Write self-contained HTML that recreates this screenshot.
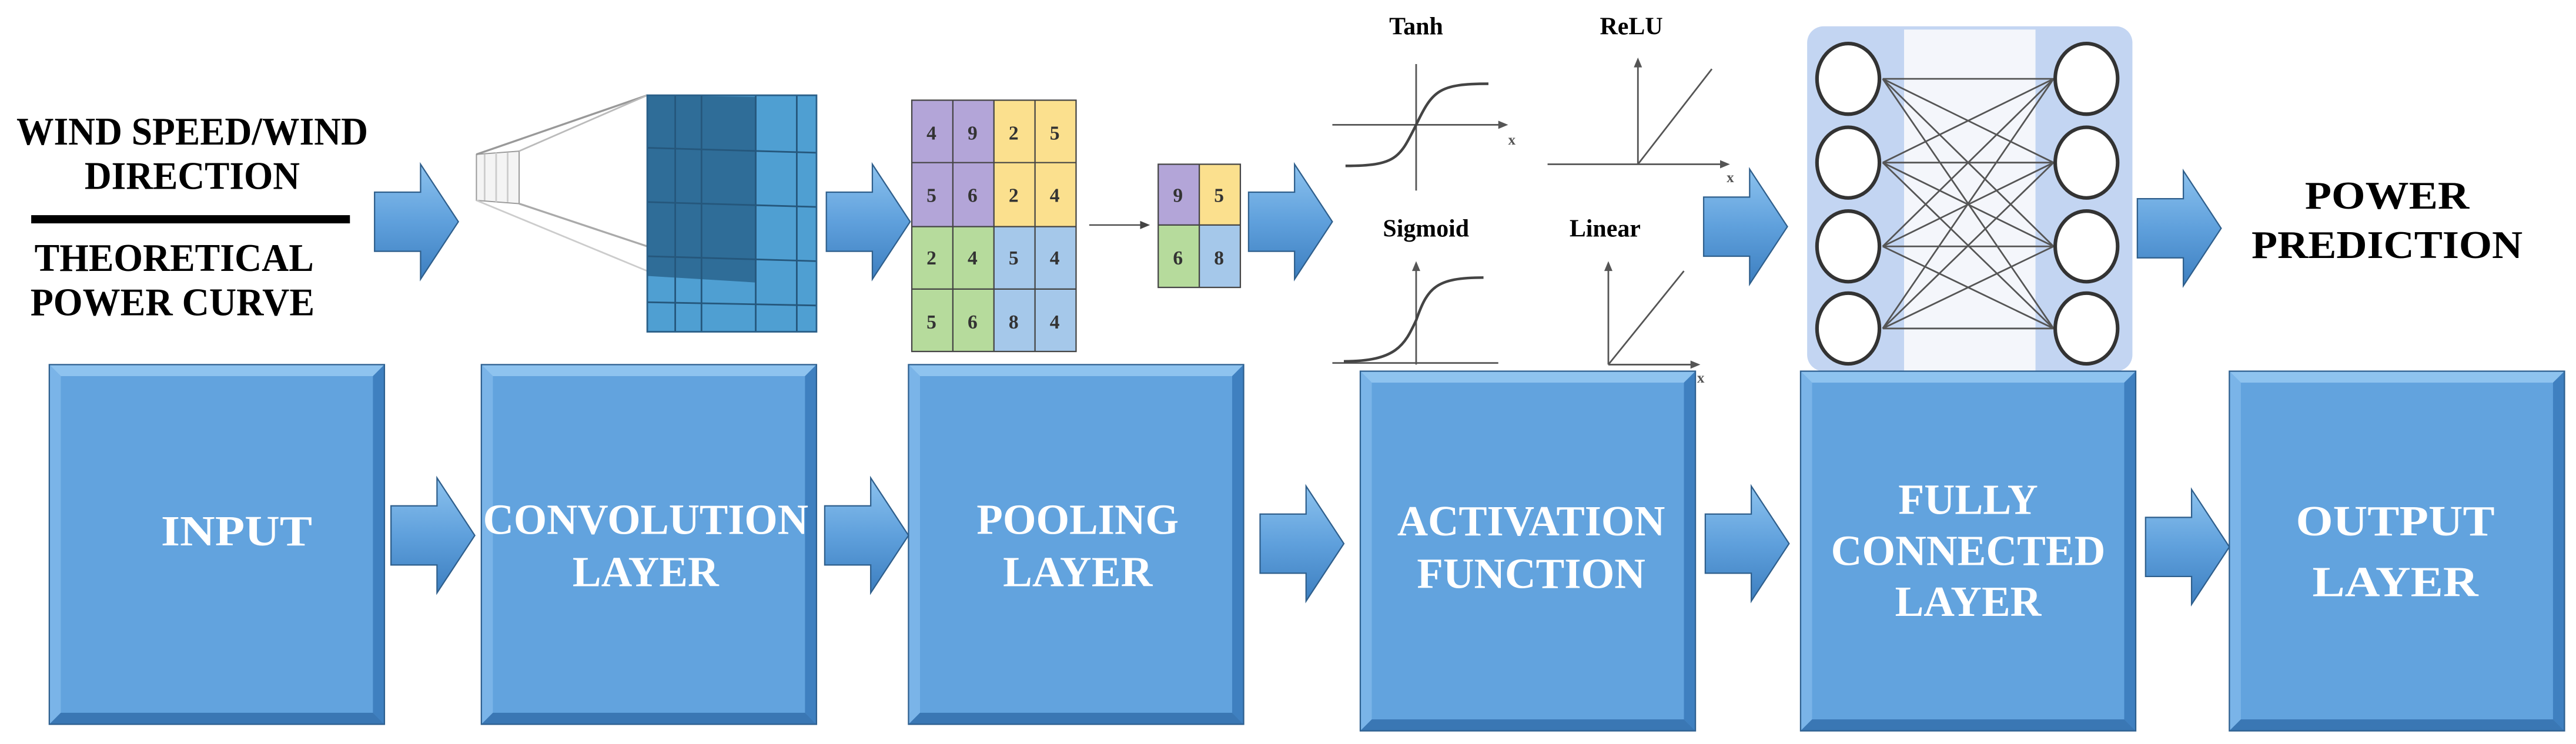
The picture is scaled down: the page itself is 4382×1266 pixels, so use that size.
<!DOCTYPE html>
<html><head><meta charset="utf-8"><style>
html,body{margin:0;padding:0;background:#fff;}
svg{display:block}
text{font-family:"Liberation Serif",serif;font-weight:bold}
</style></head><body>
<svg width="4382" height="1266" viewBox="0 0 1568 453" xmlns="http://www.w3.org/2000/svg">
<defs>
<linearGradient id="ar" x1="0" y1="0" x2="0" y2="1">
<stop offset="0" stop-color="#8cc2ee"/><stop offset="0.5" stop-color="#5fa0dc"/><stop offset="1" stop-color="#3d7fc0"/></linearGradient>
<g id="arrow"><polygon points="0,17 28,17 28,0 51,35 28,70 28,53 0,53" fill="url(#ar)" stroke="#2f5f8c" stroke-width="0.8"/></g>
<g id="box">
<rect x="0" y="0" width="204" height="219" fill="#62a3de"/>
<polygon points="0,0 204,0 197,7 7,7" fill="#8ec3ef"/>
<polygon points="0,0 7,7 7,212 0,219" fill="#7ab4e8"/>
<polygon points="204,0 204,219 197,212 197,7" fill="#3f80c0"/>
<polygon points="0,219 7,212 197,212 204,219" fill="#3a77b4"/>
<rect x="0" y="0" width="204" height="219" fill="none" stroke="#2d5f8f" stroke-width="0.8"/>
</g>
</defs>
<rect width="1568" height="453" fill="#fff"/>

<!-- left text -->
<g font-size="24" text-anchor="middle" fill="#000">
<text x="117" y="88" textLength="214" lengthAdjust="spacingAndGlyphs">WIND SPEED/WIND</text>
<text x="117" y="115" textLength="131" lengthAdjust="spacingAndGlyphs">DIRECTION</text>
<text x="106" y="165" textLength="170" lengthAdjust="spacingAndGlyphs">THEORETICAL</text>
<text x="105" y="192" textLength="173" lengthAdjust="spacingAndGlyphs">POWER CURVE</text>
</g>
<rect x="19" y="131" width="194" height="5" fill="#000"/>

<!-- top arrows -->
<use href="#arrow" x="228" y="100"/>
<use href="#arrow" x="503" y="100"/>
<use href="#arrow" x="760" y="100"/>
<use href="#arrow" x="1037" y="103"/>
<use href="#arrow" x="1301" y="104"/>

<!-- conv cube -->
<g>
<polygon points="290,94 316,92 316,124 290,122" fill="#f4f4f4" stroke="#999" stroke-width="0.7"/>
<line x1="295" y1="94" x2="295" y2="122" stroke="#ccc"/><line x1="302" y1="93" x2="302" y2="123" stroke="#ccc"/><line x1="309" y1="93" x2="309" y2="123" stroke="#ccc"/>
<line x1="290" y1="94" x2="394" y2="58" stroke="#999" stroke-width="1.2"/>
<line x1="316" y1="92" x2="394" y2="58" stroke="#bbb" stroke-width="1"/>
<line x1="316" y1="124" x2="394" y2="150" stroke="#aaa" stroke-width="1.2"/>
<line x1="290" y1="122" x2="394" y2="165" stroke="#ccc" stroke-width="1"/>
<rect x="394" y="58" width="103" height="144" fill="#4f9fd2"/>
<polygon points="394,58 460,59 460,172 394,168" fill="#2f6d98"/>
<g stroke="#25577c" stroke-width="1">
<line x1="411" y1="58" x2="411" y2="202"/><line x1="427" y1="58" x2="427" y2="202"/><line x1="460" y1="58" x2="460" y2="202"/><line x1="485" y1="58" x2="485" y2="202"/>
<line x1="394" y1="90" x2="497" y2="93"/><line x1="394" y1="123" x2="497" y2="126"/><line x1="394" y1="156" x2="497" y2="159"/><line x1="394" y1="184" x2="497" y2="186"/>
</g>
<rect x="394" y="58" width="103" height="144" fill="none" stroke="#2a5f88"/>
</g>

<!-- pooling grid -->
<g font-family="Liberation Sans" font-size="12" text-anchor="middle" fill="#333">
<rect x="555" y="61" width="50" height="77" fill="#b3a5d8"/>
<rect x="605" y="61" width="50" height="77" fill="#fbe08e"/>
<rect x="555" y="138" width="50" height="76" fill="#b6db9c"/>
<rect x="605" y="138" width="50" height="76" fill="#a5c8ea"/>
<g stroke="#444" stroke-width="0.8" fill="none">
<rect x="555" y="61" width="100" height="153"/>
<line x1="580" y1="61" x2="580" y2="214"/><line x1="605" y1="61" x2="605" y2="214"/><line x1="630" y1="61" x2="630" y2="214"/>
<line x1="555" y1="99" x2="655" y2="99"/><line x1="555" y1="138" x2="655" y2="138"/><line x1="555" y1="176" x2="655" y2="176"/>
</g>
<text x="567" y="85">4</text><text x="592" y="85">9</text><text x="617" y="85">2</text><text x="642" y="85">5</text>
<text x="567" y="123">5</text><text x="592" y="123">6</text><text x="617" y="123">2</text><text x="642" y="123">4</text>
<text x="567" y="161">2</text><text x="592" y="161">4</text><text x="617" y="161">5</text><text x="642" y="161">4</text>
<text x="567" y="200">5</text><text x="592" y="200">6</text><text x="617" y="200">8</text><text x="642" y="200">4</text>
<line x1="663" y1="137" x2="696" y2="137" stroke="#444" stroke-width="0.8"/>
<polygon points="700,137 694,134.5 694,139.5" fill="#444"/>
<rect x="705" y="100" width="25" height="37" fill="#b3a5d8"/>
<rect x="730" y="100" width="25" height="37" fill="#fbe08e"/>
<rect x="705" y="137" width="25" height="38" fill="#b6db9c"/>
<rect x="730" y="137" width="25" height="38" fill="#a5c8ea"/>
<g stroke="#444" stroke-width="0.8" fill="none"><rect x="705" y="100" width="50" height="75"/><line x1="730" y1="100" x2="730" y2="175"/><line x1="705" y1="137" x2="755" y2="137"/></g>
<text x="717" y="123">9</text><text x="742" y="123">5</text><text x="717" y="161">6</text><text x="742" y="161">8</text>
</g>

<!-- activation plots -->
<g font-size="15" text-anchor="middle" fill="#000">
<text x="862" y="21">Tanh</text><text x="993" y="21">ReLU</text>
<text x="868" y="144">Sigmoid</text><text x="977" y="144">Linear</text>
</g>
<g stroke="#555" stroke-width="1" fill="none">
<line x1="811" y1="76" x2="914" y2="76"/><line x1="862" y1="39" x2="862" y2="116"/>
<path d="M819,101 C850,101 852,96 862,76 C872,55 876,51 906,51" stroke="#444" stroke-width="1.6"/>
<line x1="942" y1="100" x2="1049" y2="100"/><line x1="997" y1="39" x2="997" y2="100"/>
<line x1="997" y1="100" x2="1042" y2="42"/>
<line x1="811" y1="221" x2="912" y2="221"/><line x1="862" y1="163" x2="862" y2="222"/>
<path d="M818,220 C850,220 855,210 862,195 C869,175 874,169 903,169" stroke="#444" stroke-width="1.6"/>
<line x1="979" y1="222" x2="1031" y2="222"/><line x1="979" y1="163" x2="979" y2="222"/>
<line x1="979" y1="222" x2="1025" y2="165"/>
</g>
<g fill="#555"><polygon points="918,76 912,73.5 912,78.5"/><polygon points="1053,100 1047,97.5 1047,102.5"/><polygon points="997,35 994.5,41 999.5,41"/><polygon points="862,159 859.5,165 864.5,165"/><polygon points="979,159 976.5,165 981.5,165"/><polygon points="1035,222 1029,219.5 1029,224.5"/></g>
<g font-family="Liberation Sans" font-size="9" fill="#555"><text x="918" y="88">x</text><text x="1051" y="111">x</text><text x="1033" y="233">x</text></g>

<!-- NN -->
<rect x="1100" y="16" width="198" height="210" rx="10" fill="#c3d5f2"/>
<rect x="1159" y="18" width="80" height="208" fill="#f4f6fb"/>
<g stroke="#555" stroke-width="1" fill="none">
<line x1="1146" y1="48" x2="1250" y2="48"/><line x1="1146" y1="48" x2="1250" y2="99"/><line x1="1146" y1="48" x2="1250" y2="150"/><line x1="1146" y1="48" x2="1250" y2="200"/>
<line x1="1146" y1="99" x2="1250" y2="48"/><line x1="1146" y1="99" x2="1250" y2="99"/><line x1="1146" y1="99" x2="1250" y2="150"/><line x1="1146" y1="99" x2="1250" y2="200"/>
<line x1="1146" y1="150" x2="1250" y2="48"/><line x1="1146" y1="150" x2="1250" y2="99"/><line x1="1146" y1="150" x2="1250" y2="150"/><line x1="1146" y1="150" x2="1250" y2="200"/>
<line x1="1146" y1="200" x2="1250" y2="48"/><line x1="1146" y1="200" x2="1250" y2="99"/><line x1="1146" y1="200" x2="1250" y2="150"/><line x1="1146" y1="200" x2="1250" y2="200"/>
</g>
<g fill="#fff" stroke="#333" stroke-width="2.2">
<ellipse cx="1125" cy="48" rx="19" ry="21.5"/><ellipse cx="1125" cy="99" rx="19" ry="21.5"/><ellipse cx="1125" cy="150" rx="19" ry="21.5"/><ellipse cx="1125" cy="200" rx="19" ry="21.5"/>
<ellipse cx="1270" cy="48" rx="19" ry="21.5"/><ellipse cx="1270" cy="99" rx="19" ry="21.5"/><ellipse cx="1270" cy="150" rx="19" ry="21.5"/><ellipse cx="1270" cy="200" rx="19" ry="21.5"/>
</g>

<g font-size="24" text-anchor="middle" fill="#000">
<text x="1453" y="127" textLength="100" lengthAdjust="spacingAndGlyphs">POWER</text>
<text x="1453" y="157" textLength="165" lengthAdjust="spacingAndGlyphs">PREDICTION</text>
</g>

<!-- boxes -->
<use href="#box" x="30" y="222"/>
<use href="#box" x="293" y="222"/>
<use href="#box" x="553" y="222"/>
<use href="#box" x="828" y="226"/>
<use href="#box" x="1096" y="226"/>
<use href="#box" x="1357" y="226"/>

<use href="#arrow" x="238" y="291"/>
<use href="#arrow" x="502" y="291"/>
<use href="#arrow" x="767" y="296"/>
<use href="#arrow" x="1038" y="296"/>
<use href="#arrow" x="1306" y="298"/>

<g font-size="26" text-anchor="middle" fill="#fff">
<text x="144" y="332" textLength="92" lengthAdjust="spacingAndGlyphs">INPUT</text>
<text x="393" y="325" textLength="198" lengthAdjust="spacingAndGlyphs">CONVOLUTION</text>
<text x="393" y="357" textLength="89" lengthAdjust="spacingAndGlyphs">LAYER</text>
<text x="656" y="325" textLength="123" lengthAdjust="spacingAndGlyphs">POOLING</text>
<text x="656" y="357" textLength="91" lengthAdjust="spacingAndGlyphs">LAYER</text>
<text x="932" y="326" textLength="163" lengthAdjust="spacingAndGlyphs">ACTIVATION</text>
<text x="932" y="358" textLength="139" lengthAdjust="spacingAndGlyphs">FUNCTION</text>
<text x="1198" y="313" textLength="85" lengthAdjust="spacingAndGlyphs">FULLY</text>
<text x="1198" y="344" textLength="167" lengthAdjust="spacingAndGlyphs">CONNECTED</text>
<text x="1198" y="375" textLength="89" lengthAdjust="spacingAndGlyphs">LAYER</text>
<text x="1458" y="326" textLength="121" lengthAdjust="spacingAndGlyphs">OUTPUT</text>
<text x="1458" y="363" textLength="101" lengthAdjust="spacingAndGlyphs">LAYER</text>
</g>
</svg>
</body></html>
